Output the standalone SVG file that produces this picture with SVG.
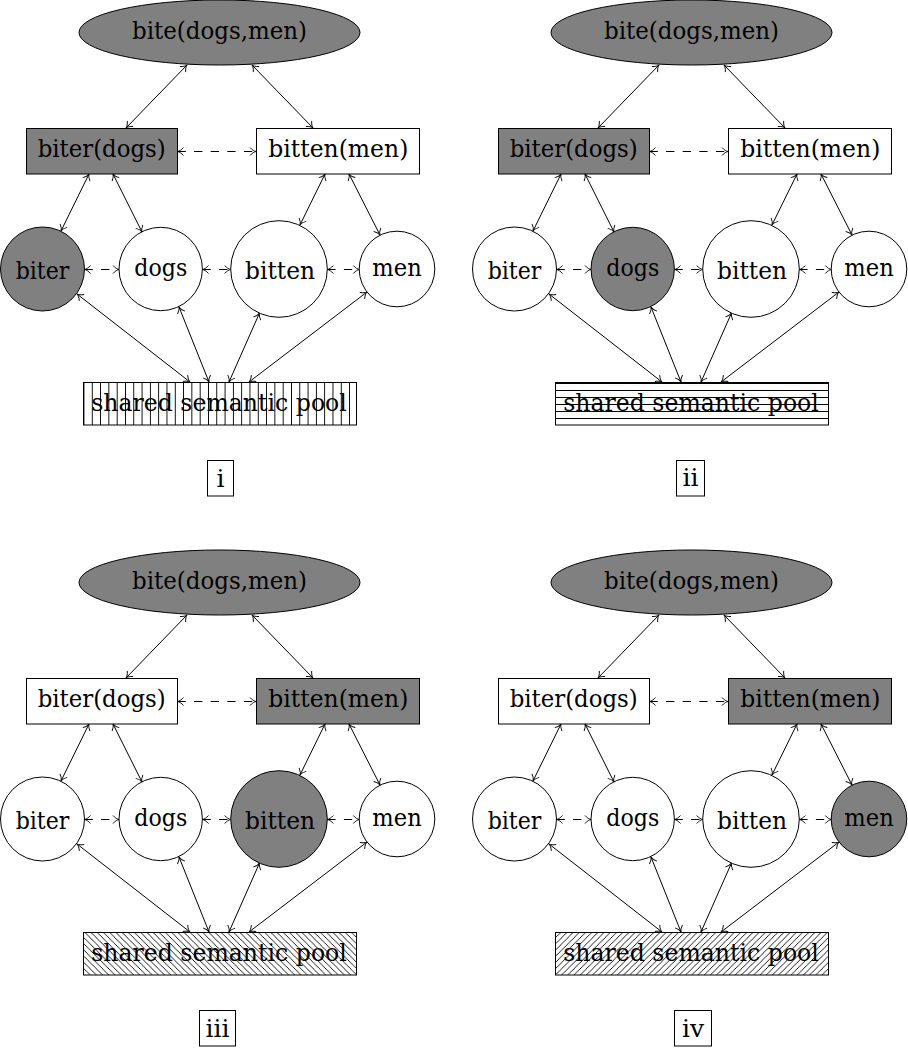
<svg xmlns="http://www.w3.org/2000/svg" width="908" height="1050" viewBox="0 0 908 1050">
<style>
.ln{stroke:#000;stroke-width:1;fill:none;marker-start:url(#ah);marker-end:url(#ah)}
.dash{stroke-dasharray:8.3 8.3}
.g{fill:#808080;stroke:#000;stroke-width:1}
.w{fill:#fff;stroke:#000;stroke-width:1}
.t{font-family:"DejaVu Serif",serif;font-size:25px;text-anchor:middle;fill:#000}
.hl{stroke:#000;stroke-width:1;fill:none;shape-rendering:crispEdges}
</style>
<defs>
<marker id="ah" markerUnits="userSpaceOnUse" viewBox="-8 -5 9 10" markerWidth="9" markerHeight="10" refX="0" refY="0" orient="auto-start-reverse" overflow="visible">
<path d="M-6,-4 C-4,-1.6 -1.6,-0.3 0,0 C-1.6,0.3 -4,1.6 -6,4" fill="none" stroke="#000" stroke-width="0.9" stroke-dasharray="none"/>
</marker>
<pattern id="pV" patternUnits="userSpaceOnUse" width="8.3" height="10" x="0.5"><path d="M0.5,0 V10" class="hl"/></pattern>
<pattern id="pH" patternUnits="userSpaceOnUse" width="10" height="7" y="0"><path d="M0,5.5 H10" class="hl"/></pattern>
<pattern id="pNW" patternUnits="userSpaceOnUse" width="6.2" height="6.2"><path d="M-1,-1 L7.2,7.2 M-1,5.2 L1,7.2 M5.2,-1 L7.2,1" class="hl"/></pattern>
<pattern id="pNE" patternUnits="userSpaceOnUse" width="6.2" height="6.2"><path d="M-1,7.2 L7.2,-1 M-1,1 L1,-1 M5.2,7.2 L7.2,5.2" class="hl"/></pattern>
</defs>
<rect width="908" height="1050" fill="#fff"/>

<!-- Panel i -->
<g id="panel-i">
<g id="i-connectors">
<path class="ln" d="M187,65 L126,128"/>
<path class="ln" d="M252,65 L313,128"/>
<path class="ln dash" d="M177.5,151.5 L256,151.5"/>
<path class="ln" d="M89,174 L61,231"/>
<path class="ln" d="M113,174 L142,232"/>
<path class="ln" d="M325,174 L300,225"/>
<path class="ln" d="M349,174 L380,235"/>
<path class="ln dash" d="M84.5,269.5 L119,269.5"/>
<path class="ln dash" d="M202.5,269.5 L230.7,269.5"/>
<path class="ln dash" d="M327.3,269.5 L359.3,269.5"/>
<path class="ln" d="M77,294 L190,382"/>
<path class="ln" d="M179,307 L209,382"/>
<path class="ln" d="M259.5,313 L229,382"/>
<path class="ln" d="M367,292 L249,382"/>
</g>
<g id="i-bite"><ellipse class="g" cx="219.5" cy="32.5" rx="140.5" ry="32.5"/><text class="t" x="219.5" y="38.5" textLength="175" lengthAdjust="spacingAndGlyphs">bite(dogs,men)</text></g>
<g id="i-biterdogs"><rect class="g" x="26.5" y="128.5" width="151" height="45.5"/><text class="t" x="101.7" y="156.5" textLength="128" lengthAdjust="spacingAndGlyphs">biter(dogs)</text></g>
<g id="i-bittenmen"><rect class="w" x="256.5" y="128.5" width="163" height="45.5"/><text class="t" x="338.3" y="156.5" textLength="140" lengthAdjust="spacingAndGlyphs">bitten(men)</text></g>
<g id="i-biter"><circle class="g" cx="42.5" cy="269" r="42"/><text class="t" x="42.5" y="278.5" textLength="53.6" lengthAdjust="spacingAndGlyphs">biter</text></g>
<g id="i-dogs"><circle class="w" cx="160.7" cy="269" r="41.7"/><text class="t" x="160.8" y="276" textLength="53" lengthAdjust="spacingAndGlyphs">dogs</text></g>
<g id="i-bitten"><circle class="w" cx="279" cy="269" r="48.3"/><text class="t" x="280" y="278.7" textLength="70" lengthAdjust="spacingAndGlyphs">bitten</text></g>
<g id="i-men"><circle class="w" cx="397" cy="269" r="37.8"/><text class="t" x="397" y="275.5" textLength="49.4" lengthAdjust="spacingAndGlyphs">men</text></g>
<g id="i-pool"><rect x="83.5" y="382.5" width="273" height="42.5" fill="#fff"/><rect x="83.5" y="382.5" width="273" height="42.5" fill="url(#pV)" stroke="#000" stroke-width="1"/><text class="t" x="219" y="410.7" textLength="255.7" lengthAdjust="spacingAndGlyphs">shared semantic pool</text></g>
<g id="i-label"><rect class="w" x="207.5" y="460.5" width="26" height="35.5"/><text class="t" x="220.5" y="487">i</text></g>
</g>

<!-- Panel ii -->
<g id="panel-ii" transform="translate(472,0)">
<g id="ii-connectors">
<path class="ln" d="M187,65 L126,128"/>
<path class="ln" d="M252,65 L313,128"/>
<path class="ln dash" d="M177.5,151.5 L256,151.5"/>
<path class="ln" d="M89,174 L61,231"/>
<path class="ln" d="M113,174 L142,232"/>
<path class="ln" d="M325,174 L300,225"/>
<path class="ln" d="M349,174 L380,235"/>
<path class="ln dash" d="M84.5,269.5 L119,269.5"/>
<path class="ln dash" d="M202.5,269.5 L230.7,269.5"/>
<path class="ln dash" d="M327.3,269.5 L359.3,269.5"/>
<path class="ln" d="M77,294 L190,382"/>
<path class="ln" d="M179,307 L209,382"/>
<path class="ln" d="M259.5,313 L229,382"/>
<path class="ln" d="M367,292 L249,382"/>
</g>
<g id="ii-bite"><ellipse class="g" cx="219.5" cy="32.5" rx="140.5" ry="32.5"/><text class="t" x="219.5" y="38.5" textLength="175" lengthAdjust="spacingAndGlyphs">bite(dogs,men)</text></g>
<g id="ii-biterdogs"><rect class="g" x="26.5" y="128.5" width="151" height="45.5"/><text class="t" x="101.7" y="156.5" textLength="128" lengthAdjust="spacingAndGlyphs">biter(dogs)</text></g>
<g id="ii-bittenmen"><rect class="w" x="256.5" y="128.5" width="163" height="45.5"/><text class="t" x="338.3" y="156.5" textLength="140" lengthAdjust="spacingAndGlyphs">bitten(men)</text></g>
<g id="ii-biter"><circle class="w" cx="42.5" cy="269" r="42"/><text class="t" x="42.5" y="278.5" textLength="53.6" lengthAdjust="spacingAndGlyphs">biter</text></g>
<g id="ii-dogs"><circle class="g" cx="160.7" cy="269" r="41.7"/><text class="t" x="160.8" y="276" textLength="53" lengthAdjust="spacingAndGlyphs">dogs</text></g>
<g id="ii-bitten"><circle class="w" cx="279" cy="269" r="48.3"/><text class="t" x="280" y="278.7" textLength="70" lengthAdjust="spacingAndGlyphs">bitten</text></g>
<g id="ii-men"><circle class="w" cx="397" cy="269" r="37.8"/><text class="t" x="397" y="275.5" textLength="49.4" lengthAdjust="spacingAndGlyphs">men</text></g>
<g id="ii-pool"><rect x="83.5" y="382.5" width="273" height="42.5" fill="#fff"/><rect x="83.5" y="382.5" width="273" height="42.5" fill="url(#pH)" stroke="#000" stroke-width="1"/><text class="t" x="219" y="410.7" textLength="255.7" lengthAdjust="spacingAndGlyphs">shared semantic pool</text></g>
<g id="ii-label"><rect class="w" x="204.5" y="460.5" width="28" height="35.5"/><text class="t" x="218.5" y="486">ii</text></g>
</g>

<!-- Panel iii -->
<g id="panel-iii" transform="translate(0,550)">
<g id="iii-connectors">
<path class="ln" d="M187,65 L126,128"/>
<path class="ln" d="M252,65 L313,128"/>
<path class="ln dash" d="M177.5,151.5 L256,151.5"/>
<path class="ln" d="M89,174 L61,231"/>
<path class="ln" d="M113,174 L142,232"/>
<path class="ln" d="M325,174 L300,225"/>
<path class="ln" d="M349,174 L380,235"/>
<path class="ln dash" d="M84.5,269.5 L119,269.5"/>
<path class="ln dash" d="M202.5,269.5 L230.7,269.5"/>
<path class="ln dash" d="M327.3,269.5 L359.3,269.5"/>
<path class="ln" d="M77,294 L190,382"/>
<path class="ln" d="M179,307 L209,382"/>
<path class="ln" d="M259.5,313 L229,382"/>
<path class="ln" d="M367,292 L249,382"/>
</g>
<g id="iii-bite"><ellipse class="g" cx="219.5" cy="32.5" rx="140.5" ry="32.5"/><text class="t" x="219.5" y="38.5" textLength="175" lengthAdjust="spacingAndGlyphs">bite(dogs,men)</text></g>
<g id="iii-biterdogs"><rect class="w" x="26.5" y="128.5" width="151" height="45.5"/><text class="t" x="101.7" y="156.5" textLength="128" lengthAdjust="spacingAndGlyphs">biter(dogs)</text></g>
<g id="iii-bittenmen"><rect class="g" x="256.5" y="128.5" width="163" height="45.5"/><text class="t" x="338.3" y="156.5" textLength="140" lengthAdjust="spacingAndGlyphs">bitten(men)</text></g>
<g id="iii-biter"><circle class="w" cx="42.5" cy="269" r="42"/><text class="t" x="42.5" y="278.5" textLength="53.6" lengthAdjust="spacingAndGlyphs">biter</text></g>
<g id="iii-dogs"><circle class="w" cx="160.7" cy="269" r="41.7"/><text class="t" x="160.8" y="276" textLength="53" lengthAdjust="spacingAndGlyphs">dogs</text></g>
<g id="iii-bitten"><circle class="g" cx="279" cy="269" r="48.3"/><text class="t" x="280" y="278.7" textLength="70" lengthAdjust="spacingAndGlyphs">bitten</text></g>
<g id="iii-men"><circle class="w" cx="397" cy="269" r="37.8"/><text class="t" x="397" y="275.5" textLength="49.4" lengthAdjust="spacingAndGlyphs">men</text></g>
<g id="iii-pool"><rect x="83.5" y="382.5" width="273" height="42.5" fill="#fff"/><rect x="83.5" y="382.5" width="273" height="42.5" fill="url(#pNW)" stroke="#000" stroke-width="1"/><text class="t" x="219" y="410.7" textLength="255.7" lengthAdjust="spacingAndGlyphs">shared semantic pool</text></g>
<g id="iii-label"><rect class="w" x="199.5" y="460.5" width="36" height="35.5"/><text class="t" x="217.5" y="487">iii</text></g>
</g>

<!-- Panel iv -->
<g id="panel-iv" transform="translate(472,550)">
<g id="iv-connectors">
<path class="ln" d="M187,65 L126,128"/>
<path class="ln" d="M252,65 L313,128"/>
<path class="ln dash" d="M177.5,151.5 L256,151.5"/>
<path class="ln" d="M89,174 L61,231"/>
<path class="ln" d="M113,174 L142,232"/>
<path class="ln" d="M325,174 L300,225"/>
<path class="ln" d="M349,174 L380,235"/>
<path class="ln dash" d="M84.5,269.5 L119,269.5"/>
<path class="ln dash" d="M202.5,269.5 L230.7,269.5"/>
<path class="ln dash" d="M327.3,269.5 L359.3,269.5"/>
<path class="ln" d="M77,294 L190,382"/>
<path class="ln" d="M179,307 L209,382"/>
<path class="ln" d="M259.5,313 L229,382"/>
<path class="ln" d="M367,292 L249,382"/>
</g>
<g id="iv-bite"><ellipse class="g" cx="219.5" cy="32.5" rx="140.5" ry="32.5"/><text class="t" x="219.5" y="38.5" textLength="175" lengthAdjust="spacingAndGlyphs">bite(dogs,men)</text></g>
<g id="iv-biterdogs"><rect class="w" x="26.5" y="128.5" width="151" height="45.5"/><text class="t" x="101.7" y="156.5" textLength="128" lengthAdjust="spacingAndGlyphs">biter(dogs)</text></g>
<g id="iv-bittenmen"><rect class="g" x="256.5" y="128.5" width="163" height="45.5"/><text class="t" x="338.3" y="156.5" textLength="140" lengthAdjust="spacingAndGlyphs">bitten(men)</text></g>
<g id="iv-biter"><circle class="w" cx="42.5" cy="269" r="42"/><text class="t" x="42.5" y="278.5" textLength="53.6" lengthAdjust="spacingAndGlyphs">biter</text></g>
<g id="iv-dogs"><circle class="w" cx="160.7" cy="269" r="41.7"/><text class="t" x="160.8" y="276" textLength="53" lengthAdjust="spacingAndGlyphs">dogs</text></g>
<g id="iv-bitten"><circle class="w" cx="279" cy="269" r="48.3"/><text class="t" x="280" y="278.7" textLength="70" lengthAdjust="spacingAndGlyphs">bitten</text></g>
<g id="iv-men"><circle class="g" cx="397" cy="269" r="37.8"/><text class="t" x="397" y="275.5" textLength="49.4" lengthAdjust="spacingAndGlyphs">men</text></g>
<g id="iv-pool"><rect x="83.5" y="382.5" width="273" height="42.5" fill="#fff"/><rect x="83.5" y="382.5" width="273" height="42.5" fill="url(#pNE)" stroke="#000" stroke-width="1"/><text class="t" x="219" y="410.7" textLength="255.7" lengthAdjust="spacingAndGlyphs">shared semantic pool</text></g>
<g id="iv-label"><rect class="w" x="202.5" y="460.5" width="37" height="35.5"/><text class="t" x="221" y="487">iv</text></g>
</g>
</svg>
